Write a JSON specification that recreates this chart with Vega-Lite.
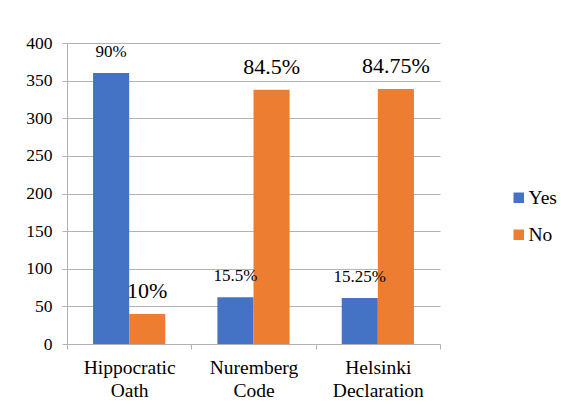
{
  "$schema": "https://vega.github.io/schema/vega-lite/v6.json",
  "width": 373,
  "height": 301,
  "autosize": {"type": "none"},
  "padding": {"left": 67, "top": 43, "right": 121, "bottom": 70},
  "background": "white",
  "config": {
    "font": "Liberation Serif",
    "view": {"stroke": null}
  },
  "data": {
    "values": [
      {"law": "Hippocratic Oath", "answer": "Yes", "count": 360, "pct": "90%"},
      {"law": "Hippocratic Oath", "answer": "No", "count": 40, "pct": "10%"},
      {"law": "Nuremberg Code", "answer": "Yes", "count": 62, "pct": "15.5%"},
      {"law": "Nuremberg Code", "answer": "No", "count": 338, "pct": "84.5%"},
      {"law": "Helsinki Declaration", "answer": "Yes", "count": 61, "pct": "15.25%"},
      {"law": "Helsinki Declaration", "answer": "No", "count": 339, "pct": "84.75%"}
    ]
  },
  "encoding": {
    "x": {
      "field": "law",
      "type": "nominal",
      "sort": ["Hippocratic Oath", "Nuremberg Code", "Helsinki Declaration"],
      "scale": {"paddingInner": 0, "paddingOuter": 0},
      "axis": {
        "title": null,
        "labelAngle": 0,
        "labelExpr": "split(datum.label, ' ')",
        "labelFont": "Liberation Serif",
        "labelFontSize": 19.5,
        "labelColor": "black",
        "labelLineHeight": 23,
        "labelPadding": 9,
        "ticks": true,
        "tickBand": "extent",
        "tickSize": 5,
        "tickColor": "#b3b3b3",
        "domainColor": "#b3b3b3",
        "grid": false
      }
    },
    "xOffset": {
      "field": "answer",
      "type": "nominal",
      "sort": ["Yes", "No"],
      "scale": {"paddingInner": 0, "paddingOuter": 0.722}
    },
    "y": {
      "field": "count",
      "type": "quantitative",
      "scale": {"domain": [0, 400], "nice": false},
      "axis": {
        "title": null,
        "values": [0, 50, 100, 150, 200, 250, 300, 350, 400],
        "grid": true,
        "gridColor": "#b3b3b3",
        "domainColor": "#b3b3b3",
        "tickColor": "#b3b3b3",
        "tickSize": 5,
        "labelFont": "Liberation Serif",
        "labelFontSize": 17.5,
        "labelColor": "black",
        "labelPadding": 10
      }
    }
  },
  "layer": [
    {
      "mark": {"type": "bar"},
      "encoding": {
        "color": {
          "field": "answer",
          "type": "nominal",
          "sort": ["Yes", "No"],
          "scale": {"domain": ["Yes", "No"], "range": ["#4472C4", "#ED7D31"]},
          "legend": {
            "title": null,
            "orient": "none",
            "legendX": 442,
            "legendY": 145,
            "symbolType": "square",
            "symbolSize": 110,
            "symbolStrokeWidth": 0,
            "labelFont": "Liberation Serif",
            "labelFontSize": 19.5,
            "labelColor": "black",
            "labelOffset": 0,
            "rowPadding": 16
          }
        }
      }
    },
    {
      "transform": [{"filter": "datum.answer == 'Yes'"}],
      "mark": {"type": "text", "fontSize": 17, "baseline": "alphabetic", "dy": -16, "font": "Liberation Serif", "color": "black"},
      "encoding": {"text": {"field": "pct", "type": "nominal"}}
    },
    {
      "transform": [{"filter": "datum.answer == 'No'"}],
      "mark": {"type": "text", "fontSize": 22, "baseline": "alphabetic", "dy": -16, "font": "Liberation Serif", "color": "black"},
      "encoding": {"text": {"field": "pct", "type": "nominal"}}
    }
  ]
}
